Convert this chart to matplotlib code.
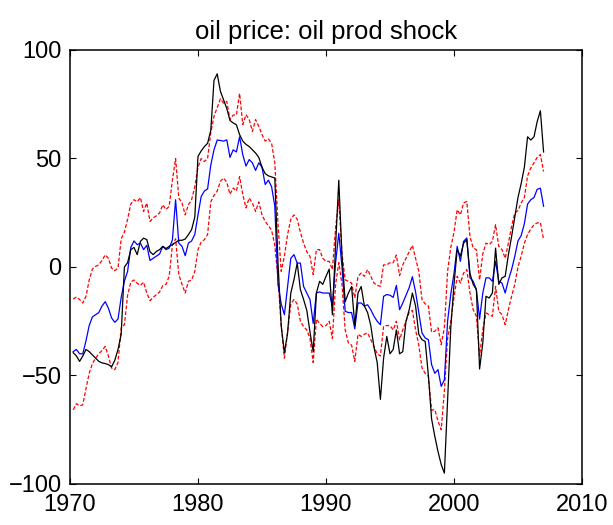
import numpy as np
import matplotlib
matplotlib.use("Agg")
import matplotlib.pyplot as plt

plt.rcParams['font.family'] = ['Liberation Sans', 'DejaVu Sans']

# quarterly observations, 1970Q2 .. 2007Q1 (one row per year, 4 quarters)
years = np.arange(1970.25, 2007.01, 0.25)

actual = [
    -39.5, -41, -43.5, -41,   -38, -39, -40.5, -42,   -43.5, -44.2, -44.5, -45,
    -46, -43, -38, -31,       0, 2, 8, 9,             5.7, 11.8, 13.3, 12.6,
    7, 5.7, 7.2, 8,           9.5, 8.5, 9.5, 10.3,    11.3, 12.3, 12.3, 12.9,
    14.9, 17.2, 23, 51,       53.5, 55.5, 57, 63,     86, 89, 81, 77,
    73, 67.5, 66.4, 65.5,     61, 58, 56.5, 55.5,     54, 52.5, 50.5, 46,
    43, 42, 41.5, 41,         2, -27, -39.5, -30.4,   -12, -5.8, 1.8, -10.4,
    -15, -20, -30, -39,       -12, -6.6, -8, -4.3,    -1, -22, 10, 40,
    5, -16, -12, -9,          -27, -12, -9, -18,      -21, -27, -37, -44,
    -61, -42, -32, -40,       -38, -29, -40, -39,     -25, -19.7, -12, -18,
    -31, -33.5, -34.3, -50,   -70, -78, -85, -91,     -95, -62, -28, -8,
    8, 5, 11, 12.6,           -3, -8, -10.4, -47,     -35, -13.5, -14.3, -12,
    8.7, -8, -5, -4.3,        5.6, 14, 23, 32,        38.5, 46, 60, 58.5,
    60, 67, 72, 53,
]

median = [
    -39, -38, -40, -40,       -34, -27, -23, -22,     -21, -18, -16, -19,
    -23.5, -25.5, -24, -14,   -6.5, -2, 9, 12,        10.3, 11, 8, 10,
    3, 4, 5, 6,               9.5, 8, 8.7, 12.5,      31, 11, 9.5, 5.2,
    11, 12, 15, 24,           32.5, 35, 36, 47,       54, 58.5, 58.3, 58,
    58.6, 50.5, 54, 53,       60, 51.7, 46.5, 49.5,   48, 44.5, 48, 46,
    38, 40, 37, 28,           -8, -17, -22, -9,       4, 5.7, 1.8, 1.8,
    -9, -12, -15, -26,        -12, -11.5, -12, -12,   -12, -18, 2, 15.6,
    0, -20.4, -21, -21,       -28.5, -16.6, -16.6, -18, -17.4, -19.7, -22.7, -25,
    -26.6, -13.5, -12.7, -13, -14, -8.5, -19.7, -16.6, -13, -9.5, -4.5, -11.5,
    -21, -30.4, -32.7, -33.5, -45, -49, -47.3, -55,   -52, -25, -12.5, -3,
    9.5, 2.6, 11.8, 13.4,     -5, -6.6, -10.4, -24,   -12, -5, -5, -6.6,
    2.6, -6.6, -7.4, -12,     -6, -1.2, 4.9, 12,      14.5, 20, 29, 31,
    32, 35.8, 36.3, 28,
]

upper = [
    -14.8, -13.8, -15, -16.6, -13.5, -6, -1, 0.3,     1, 3, 5.6, 4,
    -0.5, -1.7, -0.5, 13,     16, 22, 29, 31,         30, 32, 25.6, 29.5,
    21, 22.6, 23.6, 24.9,     28.7, 26.4, 28, 40,     50, 31.8, 29.5, 24,
    28.7, 31, 37, 46,         50, 48.6, 50, 62,       69.4, 73.5, 77.5, 75.5,
    76.3, 68, 70, 70,         80, 65.6, 70.2, 68,     62.5, 67.9, 64.8, 61,
    58, 59, 57, 48,           20, -2, 5, 15,          22, 24, 22, 16,
    11, 7, 4.9, -3.5,         8, 8, 4, 2.6,           2.6, -1.2, 18, 31,
    6, -5.9, -6.6, -7.4,      -14.3, -4.3, -2.8, -4.3, -1.2, -4.3, -7.4, -8.5,
    -8.9, 1, 1, 2,            2, 5.5, -4, 1,          4, 7, 10, 4,
    -2, -15, -17, -18,        -30, -29.6, -28, -35.8, -28, -2, 9, 16,
    26.4, 24, 29.5, 30.2,     14, 8.7, 8, -6,         6, 11, 10.3, 11.8,
    19.5, 9.5, 8, 4,          11, 18.7, 24.9, 26,     29.5, 32, 42, 45.6,
    48, 50.5, 51.8, 44,
]

lower = [
    -65.8, -63, -64, -63.5,   -56, -49, -44.5, -42,   -40, -38.5, -36.6, -41,
    -46.6, -47.3, -44, -28,   -26.6, -13, -7, -6,     -7.5, -8.5, -7, -12,
    -15.5, -14, -12.7, -11.5, -8.6, -8, -4.3, 10,     13, -3.5, -8, -12,
    -6.6, -6, -2, 8,          11.5, 12.6, 15, 30,     33, 35, 39.5, 41,
    39, 33.5, 36.4, 35,       41.7, 33.3, 27.2, 31.8, 29.5, 25.6, 30, 24,
    21, 19, 17, 10,           -5, -27, -42, -30,      -17, -15, -17, -25,
    -27.5, -29, -33, -44,     -24, -26, -27.5, -27,   -25, -33, -8, 2,
    -8, -29, -35, -36,        -43.5, -31, -32, -31,   -30.4, -33.5, -36.6, -40,
    -41, -27.3, -27, -27,     -29, -25, -33.5, -29,   -25, -21, -20, -29,
    -36, -46.5, -49, -50.4,   -66, -65.7, -71, -75,   -57, -33, -25, -14,
    -4.3, -7.4, -2.8, -1.2,   -12, -19.7, -22.7, -41, -28.9, -21.2, -22, -22.7,
    -9, -20.4, -22, -26.6,    -19.7, -13.5, -8, 0,    5, 11, 15, 17.5,
    19.5, 20.3, 20.5, 12.6,
]

fig = plt.figure(figsize=(6.13, 5.25), dpi=100)
ax = fig.add_axes([0.1142, 0.0781, 0.8352, 0.8267])

ax.plot(years, upper, color='red', lw=0.9, ls=(0, (3, 1.6)))
ax.plot(years, lower, color='red', lw=0.9, ls=(0, (3, 1.6)))
ax.plot(years, median, color='blue', lw=0.9)
ax.plot(years, actual, color='black', lw=0.9)

ax.set_xlim(1970, 2010)
ax.set_ylim(-100, 100)
ax.set_xticks([1970, 1980, 1990, 2000, 2010])
ax.set_yticks([-100, -50, 0, 50, 100])
ax.tick_params(direction='in', top=True, right=True, length=4, width=0.8,
               labelsize=17)
ax.tick_params(axis='y', pad=6)
ax.tick_params(axis='x', pad=7)
for s in ax.spines.values():
    s.set_linewidth(1.1)

ax.set_title('oil price: oil prod shock', fontsize=18.5, pad=8)

fig.savefig('out.png', dpi=100)
